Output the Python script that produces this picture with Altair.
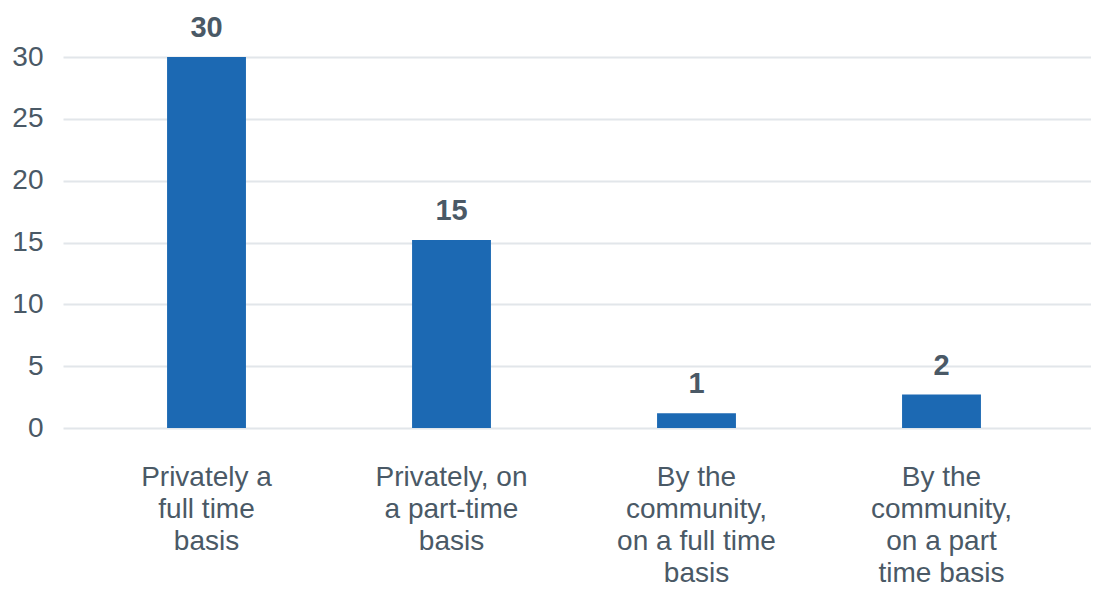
import altair as alt
import pandas as pd

categories = [
    "Privately a\nfull time\nbasis",
    "Privately, on\na part-time\nbasis",
    "By the\ncommunity,\non a full time\nbasis",
    "By the\ncommunity,\non a part\ntime basis",
]
values = [30, 15.2, 1.2, 2.7]
value_labels = ["30", "15", "1", "2"]
y_ticks = [0, 5, 10, 15, 20, 25, 30]

df = pd.DataFrame({"category": categories, "value": values, "label": value_labels})

FONT = "Liberation Sans"
TEXT = "#4a5966"
BAR = "#1c69b3"
GRID = "#e2e6ea"

x = alt.X(
    "category:N",
    sort=categories,
    title=None,
    scale=alt.Scale(paddingInner=0.678, paddingOuter=0.437, align=0.486),
    axis=alt.Axis(
        labelAngle=0,
        labelExpr="split(datum.label, '\\n')",
        domain=False,
        ticks=False,
        grid=False,
        labelPadding=35,
        labelFontSize=28,
        labelLineHeight=32,
        labelColor=TEXT,
        labelFont=FONT,
        labelLimit=400,
        labelAlign="center",
        labelBaseline="top",
    ),
)
y = alt.Y(
    "value:Q",
    title=None,
    scale=alt.Scale(domain=[0, 30], nice=False, zero=True),
    axis=alt.Axis(
        values=y_ticks,
        domain=False,
        ticks=False,
        labelPadding=20,
        labelFontSize=28,
        labelColor=TEXT,
        labelFont=FONT,
        gridColor=GRID,
        gridWidth=2,
    ),
)

base = alt.Chart(df)
bars = base.mark_bar(color=BAR).encode(x=x, y=y)
texts = base.mark_text(
    dy=-20, baseline="alphabetic", fontWeight="bold", fontSize=29, font=FONT, color=TEXT
).encode(x=x, y=y, text="label:N")

chart = (
    alt.layer(bars, texts)
    .properties(
        width=1028,
        height=371,
        autosize=alt.AutoSizeParams(type="none"),
        padding={"left": 55, "top": 49, "right": 0, "bottom": 159},
        background="white",
    )
    .configure_view(stroke=None)
)

chart.save("out.html", embed_options={"renderer": "svg", "actions": False})
